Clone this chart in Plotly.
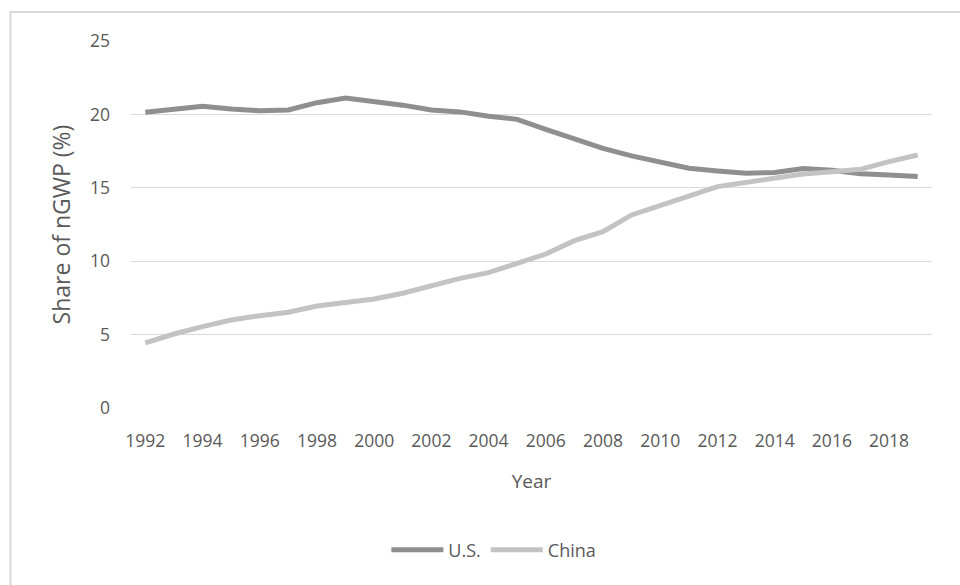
import plotly.graph_objects as go

years = [1992, 1993, 1994, 1995, 1996, 1997, 1998, 1999, 2000, 2001, 2002, 2003, 2004, 2005,
         2006, 2007, 2008, 2009, 2010, 2011, 2012, 2013, 2014, 2015, 2016, 2017, 2018, 2019]
us_share = [20.15, 20.35, 20.55, 20.37, 20.25, 20.3, 20.8, 21.12, 20.9, 20.63, 20.3, 20.17, 19.88, 19.66,
            18.98, 18.3, 17.69, 17.17, 16.72, 16.33, 16.14, 15.99, 16.05, 16.32, 16.2, 15.95, 15.87, 15.77]
china_share = [4.43, 5.04, 5.54, 5.99, 6.29, 6.52, 6.95, 7.18, 7.43, 7.82, 8.31, 8.83, 9.22, 9.87,
               10.49, 11.4, 12.01, 13.15, 13.76, 14.44, 15.08, 15.35, 15.69, 15.94, 16.1, 16.26, 16.78, 17.23]
x_ticks = [1992, 1994, 1996, 1998, 2000, 2002, 2004, 2006, 2008, 2010, 2012, 2014, 2016, 2018]
y_ticks = [0, 5, 10, 15, 20, 25]

FONT = "Open Sans, Noto Sans, sans-serif"
TXT = "#595959"
GRID = "#d9d9d9"

fig = go.Figure()
fig.add_trace(go.Scatter(x=years, y=us_share, mode="lines", name="U.S.",
                         line=dict(color="#8f8f8f", width=5)))
fig.add_trace(go.Scatter(x=years, y=china_share, mode="lines", name="China",
                         line=dict(color="#c3c3c3", width=5)))

fig.update_layout(
    width=960, height=585,
    margin=dict(l=131, r=28, t=41, b=177),
    paper_bgcolor="white", plot_bgcolor="white",
    font=dict(family=FONT, color=TXT, size=17),
    showlegend=True,
    legend=dict(orientation="h", x=0.453, xanchor="center", y=-0.387, yanchor="middle",
                font=dict(size=18, color=TXT), itemwidth=52, tracegroupgap=0,
                bgcolor="rgba(0,0,0,0)"),
    xaxis=dict(range=[1991.5, 2019.5], tickmode="array", tickvals=x_ticks,
               ticktext=[str(v) for v in x_ticks], showgrid=False, zeroline=False,
               showline=False, ticks="", ticklabelstandoff=20,
               tickfont=dict(size=17.5, color=TXT),
               title=dict(text="Year", font=dict(size=19, color=TXT), standoff=24)),
    yaxis=dict(range=[0, 25], tickmode="array", tickvals=y_ticks,
               showgrid=True, gridcolor=GRID, gridwidth=1, zeroline=False,
               showline=False, ticks="", ticklabelstandoff=20,
               tickfont=dict(size=17.5, color=TXT),
               title=dict(text="Share of nGWP (%)", font=dict(size=23, color=TXT), standoff=12)),
    shapes=[dict(type="rect", xref="paper", yref="paper",
                 x0=-0.1504, x1=1.06, y0=-0.52, y1=1.079,
                 line=dict(color="#d9d9d9", width=2), fillcolor="rgba(0,0,0,0)", layer="below")],
)

fig.write_html("out.html")
